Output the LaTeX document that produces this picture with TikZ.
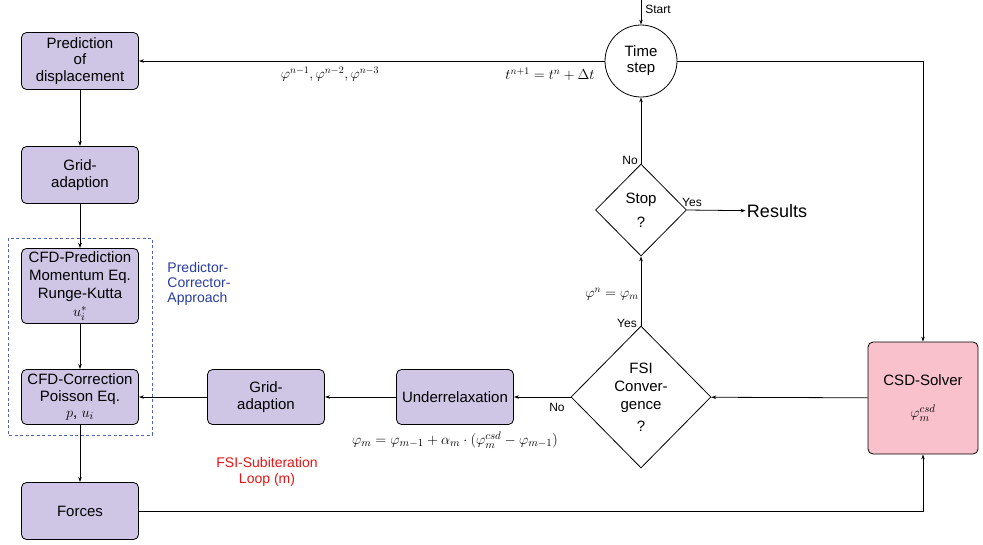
\documentclass[tikz,border=0pt]{standalone}
\usepackage{fontspec}
\setmainfont{Liberation Sans}
\usetikzlibrary{arrows.meta, positioning, shapes.geometric}

\definecolor{boxfill}{RGB}{207,198,230}
\definecolor{csdfill}{RGB}{248,193,204}
\definecolor{pcblue}{RGB}{40,60,160}
\definecolor{loopred}{RGB}{230,20,20}

\tikzset{
  box/.style={draw, rounded corners=5pt, fill=boxfill, minimum width=117pt,
    minimum height=57pt, align=center, font=\fontsize{15}{16.5}\selectfont},
  decision/.style={draw, diamond, inner sep=0pt, align=center,
    font=\fontsize{15}{18}\selectfont},
  flow/.style={-{Stealth[length=5pt,width=3.5pt]}},
  lbl/.style={font=\fontsize{12}{14}\selectfont, inner sep=1pt},
  mathlbl/.style={font=\fontsize{14}{16}\selectfont, inner sep=1pt}
}

\begin{document}
\begin{tikzpicture}[x=1pt, y=-1pt, line width=0.8pt]

    % Frame of the picture
    \useasboundingbox (0,0) rectangle (983,544);

    % Left column
    \node[box] (pred) at (80,61) {Prediction\\of\\displacement};
    \node[box] (gridA) at (80,175) {Grid-\\adaption};
    \node[box, minimum height=73pt, font=\fontsize{15}{18}\selectfont] (cfdP) at (80,286) {CFD-Prediction\\Momentum Eq.\\Runge-Kutta\\$u_i^*$};
    \node[box, minimum height=55pt] (cfdC) at (80,397) {CFD-Correction\\Poisson Eq.\\$p$, $u_i$};
    \node[box] (forces) at (80,511) {Forces};

    % Predictor-corrector group
    \draw[pcblue!80, dash pattern=on 3pt off 2.5pt, line width=0.9pt] (8,238) rectangle (152,435);
    \node[text=pcblue, align=left, font=\fontsize{14}{15}\selectfont] (pcText) at (199,284) {Predictor-\\Corrector-\\Approach};

    % Subiteration row
    \node[box, minimum height=55pt] (gridB) at (266,397) {Grid-\\adaption};
    \node[box, minimum height=55pt] (under) at (455,397) {Underrelaxation};
    \node[decision, minimum width=140pt, minimum height=142pt] (fsi) at (641,397) {FSI\\Conver-\\gence\\[4pt]?};
    \node[draw, rounded corners=5pt, fill=csdfill, minimum width=110pt, minimum height=112pt,
      align=center, font=\fontsize{15}{18}\selectfont] (csd) at (923,398) {CSD-Solver\\[14pt]$\varphi_m^{csd}$};

    % Right column
    \node[decision, minimum width=91pt, minimum height=92pt] (stop) at (641,210) {Stop\\[6pt]?};
    \node[draw, circle, minimum size=72pt, align=center, font=\fontsize{15}{16}\selectfont] (time) at (641,61) {Time\\step};
    \node[font=\fontsize{18}{20}\selectfont, inner sep=1pt] (results) at (777,211) {Results};
    \coordinate (start) at (641,0);

    % Connectors
    \draw[flow] (start) -- (time.north);
    \node[lbl, right] (startLbl) at (644,9) {Start};
    \draw[flow] (time) -- (pred);
    \node[mathlbl] (histLbl) at (330,74) {$\varphi^{n-1}, \varphi^{n-2}, \varphi^{n-3}$};
    \node[mathlbl] (timeLbl) at (550,74) {$t^{n+1} = t^n + \Delta t$};
    \draw[flow] (time.east) -| (csd.north);
    \draw[flow] (pred) -- (gridA);
    \draw[flow] (gridA) -- (cfdP);
    \draw[flow] (cfdP) -- (cfdC);
    \draw[flow] (cfdC) -- (forces);
    \draw[flow] (forces.east) -| (csd.south);
    \draw[flow] (csd) -- (fsi);
    \draw[flow] (fsi) -- (under);
    \node[lbl] (noFsi) at (557,407) {No};
    \draw[flow] (under) -- (gridB);
    \draw[flow] (gridB) -- (cfdC);
    \node[font=\fontsize{15}{17}\selectfont, inner sep=1pt] (relaxEq) at (455,440) {$\varphi_m = \varphi_{m-1} + \alpha_m \cdot (\varphi_m^{csd} - \varphi_{m-1})$};
    \draw[flow] (fsi) -- (stop);
    \node[lbl] (yesFsi) at (627,323) {Yes};
    \node[mathlbl] (updLbl) at (612,294) {$\varphi^n = \varphi_m$};
    \draw[flow] (stop) -- (time);
    \node[lbl] (noStop) at (630,160) {No};
    \draw[flow] (stop.east) -- (results);
    \node[lbl] (yesStop) at (692,202) {Yes};

    % Loop caption
    \node[text=loopred, align=center, font=\fontsize{14}{16}\selectfont] (loopText) at (267,472) {FSI-Subiteration\\Loop (m)};

\end{tikzpicture}
\end{document}
